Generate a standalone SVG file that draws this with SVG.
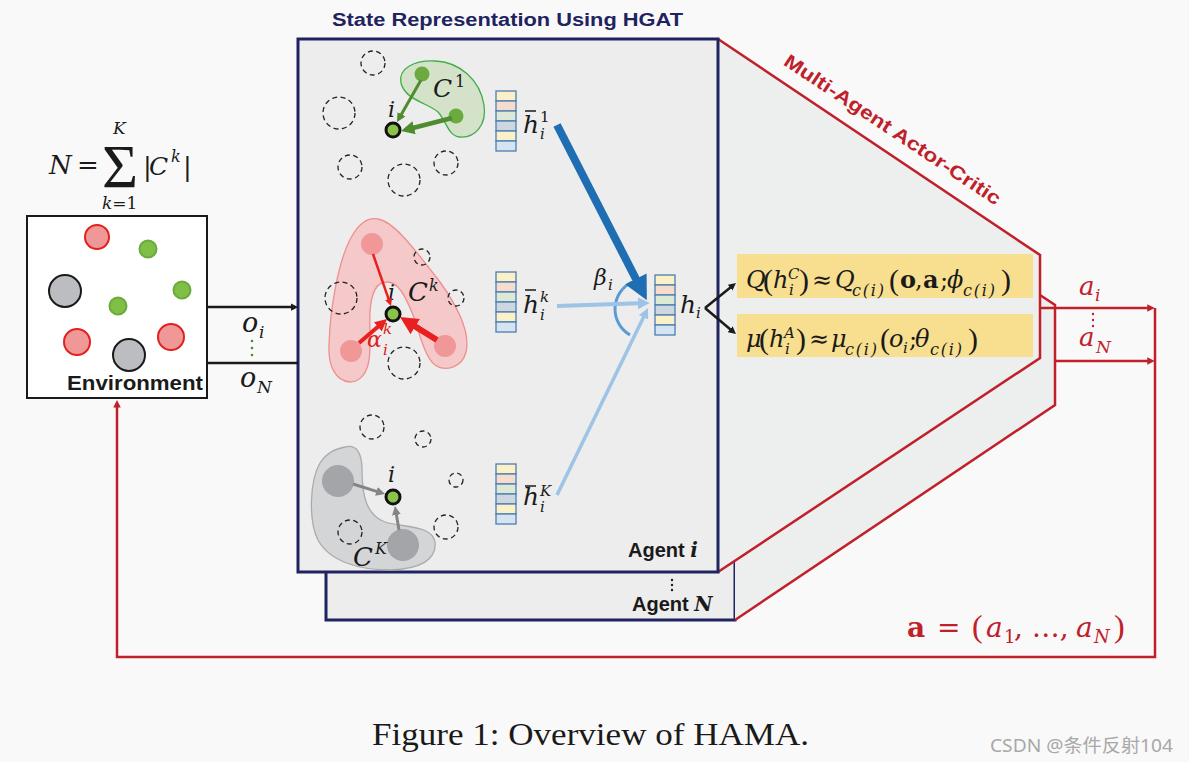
<svg xmlns="http://www.w3.org/2000/svg" width="1189" height="762" viewBox="0 0 1189 762">
<style>
.m{font-family:"DejaVu Serif","Liberation Serif",serif;font-style:italic;fill:#1a1a1a}
.up{font-style:normal}
.bd{font-weight:bold;font-style:normal}
.pr{font-family:"Liberation Serif",serif;font-style:normal}
.sb{letter-spacing:1.8px}
.lab{font-family:"Liberation Sans",Arial,sans-serif;font-weight:bold;fill:#1a1a1a}
.dash{fill:none;stroke:#222;stroke-width:1.3;stroke-dasharray:5 3.5}
.box{fill:#ecedec;stroke:#1f2460;stroke-width:3}
.red{fill:none;stroke:#c0202a;stroke-width:2.5}
.redt{fill:#c0202a}
</style>
<defs>
<marker id="hk" viewBox="0 0 10 10" refX="1" refY="5" markerWidth="3" markerHeight="3" orient="auto"><path d="M0,0 L10,5 L0,10 z" fill="#1a1a1a"/></marker>
<marker id="hr" viewBox="0 0 10 10" refX="1" refY="5" markerWidth="3" markerHeight="3" orient="auto"><path d="M0,0 L10,5 L0,10 z" fill="#c0202a"/></marker>
<marker id="hb" viewBox="0 0 10 10" refX="1" refY="5" markerWidth="3" markerHeight="3" orient="auto"><path d="M0,0 L10,5 L0,10 z" fill="#1f6eb4"/></marker>
<marker id="hl" viewBox="0 0 10 10" refX="1" refY="5" markerWidth="3" markerHeight="3" orient="auto"><path d="M0,0 L10,5 L0,10 z" fill="#9dc3e6"/></marker>
<marker id="hg" viewBox="0 0 10 10" refX="1" refY="5" markerWidth="3" markerHeight="3" orient="auto"><path d="M0,0 L10,5 L0,10 z" fill="#4f8c2f"/></marker>
<marker id="hrr" viewBox="0 0 10 10" refX="1" refY="5" markerWidth="3" markerHeight="3" orient="auto"><path d="M0,0 L10,5 L0,10 z" fill="#e8201f"/></marker>
<marker id="hgy" viewBox="0 0 10 10" refX="1" refY="5" markerWidth="3" markerHeight="3" orient="auto"><path d="M0,0 L10,5 L0,10 z" fill="#858585"/></marker>
<g id="vec" stroke="#4a7fb0" stroke-width="1.3">
<rect x="0" y="0" width="20" height="10" fill="#fbf0c8"/>
<rect x="0" y="10" width="20" height="10" fill="#f6dccf"/>
<rect x="0" y="20" width="20" height="10" fill="#dce9d5"/>
<rect x="0" y="30" width="20" height="10" fill="#ced6e0"/>
<rect x="0" y="40" width="20" height="10" fill="#fbf0c8"/>
<rect x="0" y="50" width="20" height="10" fill="#d6e3f0"/>
</g>
</defs>
<rect x="0" y="0" width="1189" height="762" fill="#f9f9f9"/>

<!-- Agent N (behind) -->
<g id="agent-N">
<rect class="box" x="326" y="60" width="409" height="560"/>
<text class="lab" font-size="20" x="632" y="611">Agent <tspan class="m" style="font-weight:bold;fill:#1a1a1a">N</tspan></text>
</g>

<!-- Actor-critic block -->
<g id="actor-critic">
<polygon points="718,39 1040,255 1040,295 1055,305 1055,405 735,620 735,561 718,572" fill="#edeeee"/>
<polyline class="red" points="718,39 1040,255 1040,358 718,572"/>
<polyline class="red" points="1040,295 1055,305 1055,405 735,620"/>
<text class="lab" font-size="19" style="fill:#c0202a" text-anchor="middle" transform="translate(889,135) rotate(33.6)" textLength="256" lengthAdjust="spacingAndGlyphs">Multi-Agent Actor-Critic</text>
<rect x="737" y="254" width="296" height="44" fill="#f8df8f"/>
<rect x="737" y="314" width="296" height="43" fill="#f8df8f"/>
<text class="m" font-size="24">
<tspan x="746" y="288">Q</tspan><tspan class="pr" x="763" y="290" font-size="30">(</tspan><tspan x="773" y="288">h</tspan><tspan x="788" y="279" font-size="15">C</tspan><tspan x="789" y="295" font-size="15">i</tspan><tspan class="pr" x="799" y="290" font-size="30">)</tspan><tspan class="up" x="812" y="288">≈</tspan><tspan x="835" y="288">Q</tspan><tspan class="sb" x="852" y="296" font-size="16">c(i)</tspan><tspan class="pr" x="889" y="290" font-size="30">(</tspan><tspan class="bd" x="900" y="288">o</tspan><tspan class="up" x="915" y="288">,</tspan><tspan class="bd" x="923" y="288">a</tspan><tspan class="up" x="940" y="288">;</tspan><tspan x="947" y="288">ϕ</tspan><tspan class="sb" x="963" y="296" font-size="16">c(i)</tspan><tspan class="pr" x="1001" y="290" font-size="30">)</tspan>
</text>
<text class="m" font-size="24">
<tspan x="746" y="347">μ</tspan><tspan class="pr" x="759" y="349" font-size="30">(</tspan><tspan x="769" y="347">h</tspan><tspan x="784" y="338" font-size="15">A</tspan><tspan x="785" y="354" font-size="15">i</tspan><tspan class="pr" x="796" y="349" font-size="30">)</tspan><tspan class="up" x="809" y="347">≈</tspan><tspan x="831" y="347">μ</tspan><tspan class="sb" x="845" y="355" font-size="16">c(i)</tspan><tspan class="pr" x="880" y="349" font-size="30">(</tspan><tspan x="889" y="347">o</tspan><tspan x="903" y="353" font-size="15">i</tspan><tspan class="up" x="909" y="347">;</tspan><tspan x="915" y="347">θ</tspan><tspan class="sb" x="930" y="355" font-size="16">c(i)</tspan><tspan class="pr" x="968" y="349" font-size="30">)</tspan>
</text>
</g>

<!-- Agent i (front) -->
<g id="agent-i">
<rect class="box" x="298" y="39" width="420" height="533"/>
<text class="lab" font-size="20" x="628" y="557">Agent <tspan class="m" style="font-weight:bold;fill:#1a1a1a">i</tspan></text>
</g>
<g id="agent-dots" fill="#1a1a1a">
<circle cx="672" cy="580" r="1.2"/><circle cx="672" cy="585" r="1.2"/><circle cx="672" cy="590" r="1.2"/>
</g>

<text class="lab" font-size="18" x="332" y="26" style="fill:#1f2460" textLength="351" lengthAdjust="spacingAndGlyphs">State Representation Using HGAT</text>

<!-- Cluster 1 (green) -->
<g id="cluster-1">
<circle class="dash" cx="373" cy="63" r="12"/>
<circle class="dash" cx="339" cy="113" r="16"/>
<circle class="dash" cx="350" cy="167" r="12"/>
<circle class="dash" cx="404" cy="180" r="16"/>
<circle class="dash" cx="446" cy="163" r="12"/>
<path d="M401,83 C398,68 415,60 435,61 C460,62 480,80 484,105 C487,125 475,138 460,137 C448,136 447,122 438,112 C428,103 405,100 401,83 Z" fill="#d3e2c8" stroke="#3fae49" stroke-width="1.3"/>
<circle cx="422" cy="74" r="7.5" fill="#6aaa3e"/>
<circle cx="456" cy="116" r="7.5" fill="#6aaa3e"/>
<text class="m" font-size="25" x="433" y="97">C</text><text class="m up" font-size="16" x="455" y="87">1</text>
<text class="m" font-size="22" x="388" y="117">i</text>
<circle cx="393" cy="130" r="7" fill="#8bc34a" stroke="#111" stroke-width="3"/>
</g>

<!-- Cluster k (red) -->
<g id="cluster-k">
<path d="M350,382 C335,381 328,365 329,345 C330,310 338,260 352,236 C360,222 368,217 378,219 C395,222 415,250 440,282 C460,310 470,335 466,352 C462,368 445,372 435,365 C425,357 420,335 413,315 C405,295 398,282 387,282 C376,282 371,295 370,312 C369,330 372,350 368,365 C365,376 358,382 350,382 Z" fill="#f5c9c9" stroke="#f08f8f" stroke-width="1.3"/>
<circle class="dash" cx="422" cy="257" r="8"/>
<circle class="dash" cx="341" cy="298" r="16"/>
<circle class="dash" cx="456" cy="298" r="8"/>
<circle class="dash" cx="404" cy="363" r="16"/>
<circle cx="372" cy="244" r="11" fill="#f09898"/>
<circle cx="351" cy="351" r="11" fill="#f09898"/>
<circle cx="445" cy="346" r="11" fill="#f09898"/>
<text class="m" font-size="26" x="408" y="301">C</text><text class="m" font-size="16" x="429" y="291">k</text>
<text class="m" font-size="22" x="388" y="300">i</text>
<text class="m" font-size="22" x="367" y="347" style="fill:#e02020">α</text>
<text class="m" font-size="15" x="383" y="334" style="fill:#e02020">k</text>
<text class="m" font-size="15" x="383" y="355" style="fill:#e02020">i</text>
<circle cx="393" cy="314" r="7" fill="#8bc34a" stroke="#111" stroke-width="3"/>
</g>

<!-- Cluster K (gray) -->
<g id="cluster-K">
<circle class="dash" cx="372" cy="427" r="12"/>
<circle class="dash" cx="423" cy="439" r="8"/>
<circle class="dash" cx="456" cy="480" r="7"/>
<path d="M345,447 C356,444 362,452 362,470 C362,495 366,515 385,522 C405,528 432,525 435,542 C437,560 420,569 390,570 C360,570 330,562 318,540 C308,520 310,480 320,463 C327,452 336,449 345,447 Z" fill="#d4d5d7" stroke="#a9abad" stroke-width="1.3"/>
<circle class="dash" cx="350" cy="532" r="12"/>
<circle class="dash" cx="446" cy="527" r="12"/>
<circle cx="338" cy="481" r="16" fill="#a4a5a8"/>
<circle cx="403" cy="545" r="16" fill="#a4a5a8"/>
<text class="m" font-size="26" x="353" y="566">C</text><text class="m" font-size="16" x="375" y="554">K</text>
<text class="m" font-size="22" x="388" y="482">i</text>
<circle cx="393" cy="497" r="7" fill="#8bc34a" stroke="#111" stroke-width="3"/>
</g>

<!-- Feature vectors -->
<g id="vec-1">
<use href="#vec" x="496" y="91"/>
<line x1="525" y1="111" x2="536" y2="111" stroke="#1a1a1a" stroke-width="1.5"/>
<text class="m" font-size="25" x="523" y="133">h</text><text class="m up" font-size="15" x="540" y="122">1</text><text class="m" font-size="15" x="540" y="139">i</text>
</g>
<g id="vec-k">
<use href="#vec" x="496" y="272"/>
<line x1="525" y1="290" x2="536" y2="290" stroke="#1a1a1a" stroke-width="1.5"/>
<text class="m" font-size="25" x="523" y="313">h</text><text class="m" font-size="15" x="540" y="302">k</text><text class="m" font-size="15" x="540" y="320">i</text>
</g>
<g id="vec-K">
<use href="#vec" x="496" y="464"/>
<line x1="525" y1="486" x2="536" y2="486" stroke="#1a1a1a" stroke-width="1.5"/>
<text class="m" font-size="25" x="523" y="505">h</text><text class="m" font-size="15" x="540" y="496">K</text><text class="m" font-size="15" x="540" y="512">i</text>
</g>
<g id="h-i">
<use href="#vec" x="655" y="275"/>
<text class="m" font-size="25" x="680" y="313">h</text><text class="m" font-size="15" x="696" y="318">i</text>
</g>
<g id="beta">
<path d="M632,282 A30,30 0 0 0 630,335" fill="none" stroke="#5b9bd5" stroke-width="3"/>
<text class="m" font-size="22" x="594" y="285">β</text><text class="m" font-size="15" x="608" y="290">i</text>
</g>

<!-- Environment -->
<g id="environment">
<rect x="27" y="216" width="180" height="182" fill="#ffffff" stroke="#1a1a1a" stroke-width="2"/>
<g stroke-width="2">
<circle cx="97" cy="237" r="12" fill="#f09898" stroke="#e32020"/>
<circle cx="148" cy="249" r="8.5" fill="#80bf46" stroke="#6aaa3e"/>
<circle cx="65" cy="291" r="16" fill="#bcbdc0" stroke="#1a1a1a"/>
<circle cx="182" cy="290" r="8.5" fill="#80bf46" stroke="#6aaa3e"/>
<circle cx="118" cy="306" r="8.5" fill="#80bf46" stroke="#6aaa3e"/>
<circle cx="77" cy="342" r="13" fill="#f09898" stroke="#e32020"/>
<circle cx="171" cy="337" r="13" fill="#f09898" stroke="#e32020"/>
<circle cx="129" cy="355" r="16" fill="#bcbdc0" stroke="#1a1a1a"/>
</g>
<text class="lab" font-size="20" x="67" y="390" textLength="136" lengthAdjust="spacingAndGlyphs">Environment</text>
</g>
<g id="formula-N">
<text class="m" font-size="26" x="49" y="174">N</text>
<text class="m up" font-size="26" x="77" y="174">=</text>
<text class="pr" font-size="62" x="102" y="187" fill="#1a1a1a">Σ</text>
<text class="m" font-size="17" x="113" y="134">K</text>
<text class="m" font-size="17" x="102" y="209">k<tspan class="up">=1</tspan></text>
<text class="m up" font-size="26" x="143" y="176">|</text>
<text class="m" font-size="25" x="149" y="175">C</text>
<text class="m" font-size="16" x="171" y="162">k</text>
<text class="m up" font-size="26" x="183" y="176">|</text>
</g>

<!-- Connectors -->
<g id="connectors" fill="none">
<line x1="207" y1="307" x2="291.5" y2="307" stroke="#1a1a1a" stroke-width="2.5" marker-end="url(#hk)"/>
<line x1="207" y1="363" x2="298" y2="363" stroke="#1a1a1a" stroke-width="2.5"/>
<line x1="557" y1="125" x2="637" y2="281" stroke="#1f6eb4" stroke-width="8" marker-end="url(#hb)"/>
<line x1="557" y1="306" x2="639" y2="303.3" stroke="#9dc3e6" stroke-width="4" marker-end="url(#hl)"/>
<line x1="557" y1="495" x2="643.9" y2="316.5" stroke="#9dc3e6" stroke-width="3.5" marker-end="url(#hl)"/>
<line x1="705" y1="308" x2="730.7" y2="287.2" stroke="#1a1a1a" stroke-width="2.5" marker-end="url(#hk)"/>
<line x1="705" y1="308" x2="730.8" y2="329.7" stroke="#1a1a1a" stroke-width="2.5" marker-end="url(#hk)"/>
<line x1="421" y1="80" x2="401" y2="115" stroke="#4f8c2f" stroke-width="3" marker-end="url(#hg)"/>
<line x1="452" y1="118" x2="412.8" y2="128" stroke="#4f8c2f" stroke-width="4.5" marker-end="url(#hg)"/>
<line x1="373" y1="254" x2="388.8" y2="299.6" stroke="#e8201f" stroke-width="2.5" marker-end="url(#hrr)"/>
<line x1="359" y1="343" x2="378.8" y2="326" stroke="#e8201f" stroke-width="4" marker-end="url(#hrr)"/>
<line x1="437" y1="340" x2="413.8" y2="325.6" stroke="#e8201f" stroke-width="6" marker-end="url(#hrr)"/>
<line x1="353" y1="484" x2="377.3" y2="491.6" stroke="#858585" stroke-width="3" marker-end="url(#hgy)"/>
<line x1="399" y1="530" x2="396.3" y2="514" stroke="#858585" stroke-width="3" marker-end="url(#hgy)"/>
<line x1="1040" y1="308" x2="1148" y2="308" stroke="#c0202a" stroke-width="2.5" marker-end="url(#hr)"/>
<line x1="1055" y1="361" x2="1148" y2="361" stroke="#c0202a" stroke-width="2.5" marker-end="url(#hr)"/>
<polyline points="1155,308 1155,657 117,657 117,406.8" stroke="#c0202a" stroke-width="2.5" marker-end="url(#hr)"/>
</g>

<g id="obs-labels">
<text class="m" font-size="27" x="242" y="332">o</text><text class="m" font-size="17" x="259" y="338">i</text>
<g fill="#4f8c2f"><circle cx="252" cy="341" r="1.3"/><circle cx="252" cy="348" r="1.3"/><circle cx="252" cy="355" r="1.3"/></g>
<text class="m" font-size="27" x="240" y="387">o</text><text class="m" font-size="17" x="257" y="393">N</text>
</g>
<g id="action-labels">
<text class="m" font-size="26" x="1079" y="295" style="fill:#c0202a">a</text><text class="m" font-size="17" x="1095" y="301" style="fill:#c0202a">i</text>
<g class="redt"><circle cx="1093" cy="314" r="1.2"/><circle cx="1093" cy="320" r="1.2"/><circle cx="1093" cy="326" r="1.2"/></g>
<text class="m" font-size="26" x="1079" y="346" style="fill:#c0202a">a</text><text class="m" font-size="17" x="1096" y="353" style="fill:#c0202a">N</text>
<text class="m" font-size="28" y="637" style="fill:#c0202a"><tspan class="bd" x="907">a</tspan><tspan class="up" x="937">=</tspan><tspan class="pr" x="972" font-size="32">(</tspan><tspan x="986">a</tspan><tspan x="1004" y="643" font-size="18" class="up">1</tspan><tspan class="up" x="1014" y="637">, …,</tspan><tspan x="1076">a</tspan><tspan x="1094" y="643" font-size="18">N</tspan><tspan class="pr" x="1114" y="637" font-size="32">)</tspan></text>
</g>

<text x="372" y="745" font-family="Liberation Serif, Times New Roman, serif" font-size="31" fill="#1a1a1a" textLength="437" lengthAdjust="spacingAndGlyphs">Figure 1: Overview of HAMA.</text>
<text x="990" y="752" font-family="Noto Sans, Noto Sans CJK SC, sans-serif" font-size="18" fill="#a8a8a8" textLength="183" lengthAdjust="spacingAndGlyphs">CSDN @条件反射104</text>
</svg>
